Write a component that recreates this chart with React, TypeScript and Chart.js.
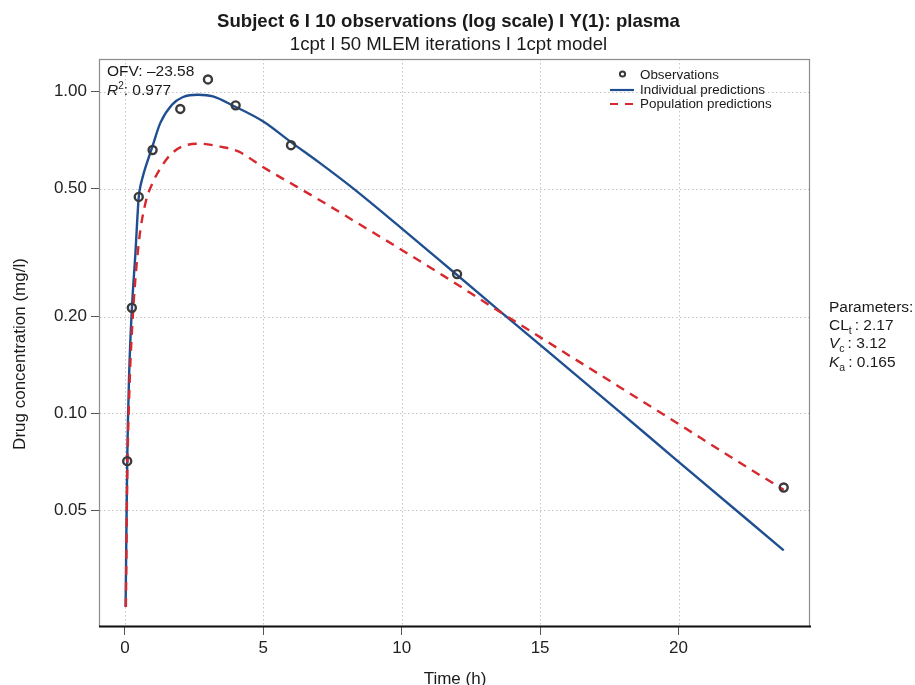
import React, { useEffect, useRef } from 'react';
import { Chart, registerables } from 'chart.js';

Chart.register(...registerables);

// ---- data ----
const obsTime = [0.083, 0.25, 0.5, 1, 2, 3, 4, 6, 12, 23.8];
const obsConc = [0.071, 0.213, 0.471, 0.659, 0.884, 1.092, 0.907, 0.682, 0.271, 0.0588];

const ipredTime = [0.025, 0.083, 0.15, 0.25, 0.38, 0.5, 0.58, 0.68, 0.85, 1, 1.28, 1.7, 2.1, 2.64, 3.18, 3.9, 5, 6, 7, 8.2, 9.9, 11.85, 13.5, 17.94, 19.8, 23.8];
const ipredConc = [0.025, 0.071, 0.13, 0.21, 0.315, 0.471, 0.517, 0.558, 0.621, 0.679, 0.8, 0.911, 0.963, 0.979, 0.967, 0.906, 0.808, 0.697, 0.604, 0.504, 0.382, 0.276, 0.2094, 0.1, 0.0731, 0.0375];

const ppredTime = [0.035, 0.083, 0.15, 0.26, 0.5, 0.74, 1, 1.28, 1.64, 2.06, 2.72, 3.44, 4.1, 5, 6.2, 7.17, 8.37, 9.8, 11.5, 13.2, 15.7, 17.85, 19.9, 21.95, 23.8];
const ppredConc = [0.025, 0.062, 0.11, 0.184, 0.338, 0.45, 0.52, 0.578, 0.636, 0.675, 0.689, 0.675, 0.652, 0.582, 0.507, 0.453, 0.392, 0.33, 0.268, 0.216, 0.158, 0.121, 0.0938, 0.0726, 0.0578];

const xTicks = [0, 5, 10, 15, 20];
const yTicks = [0.05, 0.1, 0.2, 0.5, 1];
const yTickLabels = ['0.05', '0.10', '0.20', '0.50', '1.00'];

const titleText = 'Subject 6 I 10 observations (log scale) I Y(1): plasma';
const subtitleText = '1cpt I 50 MLEM iterations I 1cpt model';
const xTitle = 'Time (h)';
const yTitle = 'Drug concentration (mg/l)';
const legendLabels = ['Observations', 'Individual predictions', 'Population predictions'];
const ofvText = 'OFV: \u201323.58';
const r2Value = ': 0.977';
const paramHeader = 'Parameters:';
const paramSymbols = ['CL', 'V', 'K'];
const paramSubs = ['t', 'c', 'a'];
const paramItalic = [false, true, true];
const paramValues = ['2.17', '3.12', '0.165'];

const FONT = '"Liberation Sans", Arial, Helvetica, sans-serif';
const BLUE = '#1f4f91';
const RED = '#d6282d';
const OBS = '#3a3a3a';

const decor = {
  id: 'decor',
  beforeDatasetsDraw(chart: any) {
    const { ctx, chartArea: a, scales } = chart;
    const x = scales.x;
    const y = scales.y;
    ctx.save();
    ctx.strokeStyle = '#c4c4c4';
    ctx.lineWidth = 1;
    ctx.setLineDash([1.5, 2.5]);
    for (const v of xTicks) {
      const px = Math.round(x.getPixelForValue(v)) + 0.5;
      ctx.beginPath();
      ctx.moveTo(px, a.top);
      ctx.lineTo(px, a.bottom);
      ctx.stroke();
    }
    for (const v of yTicks) {
      const py = Math.round(y.getPixelForValue(v)) + 0.5;
      ctx.beginPath();
      ctx.moveTo(a.left, py);
      ctx.lineTo(a.right, py);
      ctx.stroke();
    }
    ctx.setLineDash([]);
    ctx.strokeStyle = '#8c8c8c';
    ctx.lineWidth = 1.2;
    ctx.strokeRect(a.left - 0.5, a.top + 0.5, a.right - a.left, a.bottom - a.top);
    ctx.strokeStyle = '#111';
    ctx.lineWidth = 2;
    ctx.beginPath();
    ctx.moveTo(a.left - 1, a.bottom + 0.5);
    ctx.lineTo(a.right + 1, a.bottom + 0.5);
    ctx.stroke();
    ctx.restore();
  },
  afterDraw(chart: any) {
    const { ctx, chartArea: a } = chart;
    ctx.save();
    ctx.fillStyle = '#1a1a1a';
    ctx.textAlign = 'center';
    ctx.textBaseline = 'alphabetic';
    ctx.font = `bold 18.6px ${FONT}`;
    ctx.fillText(titleText, 448.5, 27);
    ctx.font = `18.6px ${FONT}`;
    ctx.fillText(subtitleText, 448.5, 50);
    ctx.font = `17px ${FONT}`;
    ctx.fillText(xTitle, (a.left + a.right) / 2, 684);
    ctx.save();
    ctx.translate(25, 354);
    ctx.rotate(-Math.PI / 2);
    ctx.fillText(yTitle, 0, 0);
    ctx.restore();

    ctx.textAlign = 'left';
    ctx.textBaseline = 'middle';
    ctx.font = `15.5px ${FONT}`;
    ctx.fillText(ofvText, 107, 72);
    ctx.font = `italic 15.5px ${FONT}`;
    ctx.fillText('R', 107, 91);
    let wx = 107 + ctx.measureText('R').width;
    ctx.font = `10px ${FONT}`;
    ctx.fillText('2', wx, 86);
    wx += ctx.measureText('2').width;
    ctx.font = `15.5px ${FONT}`;
    ctx.fillText(r2Value, wx, 91);

    const ly = [75, 90, 104];
    ctx.font = `13.4px ${FONT}`;
    ctx.fillStyle = '#1a1a1a';
    legendLabels.forEach((t, i) => ctx.fillText(t, 640, ly[i]));
    ctx.strokeStyle = OBS;
    ctx.lineWidth = 2;
    ctx.beginPath();
    ctx.arc(622.5, ly[0] - 1, 2.6, 0, Math.PI * 2);
    ctx.stroke();
    ctx.strokeStyle = BLUE;
    ctx.lineWidth = 2.2;
    ctx.beginPath();
    ctx.moveTo(610, ly[1]);
    ctx.lineTo(634, ly[1]);
    ctx.stroke();
    ctx.strokeStyle = RED;
    ctx.beginPath();
    ctx.moveTo(610, ly[2]);
    ctx.lineTo(618, ly[2]);
    ctx.moveTo(625, ly[2]);
    ctx.lineTo(633, ly[2]);
    ctx.stroke();

    ctx.fillStyle = '#1a1a1a';
    ctx.font = `15.5px ${FONT}`;
    const px = 829;
    const pys = [326, 344, 363];
    ctx.fillText(paramHeader, px, 308);
    paramSymbols.forEach((s, i) => {
      const py = pys[i];
      ctx.font = `${paramItalic[i] ? 'italic ' : ''}15.5px ${FONT}`;
      ctx.fillText(s, px, py);
      let cx = px + ctx.measureText(s).width;
      ctx.font = `10.5px ${FONT}`;
      ctx.fillText(paramSubs[i], cx, py + 5);
      cx += ctx.measureText(paramSubs[i]).width + 1;
      ctx.font = `15.5px ${FONT}`;
      ctx.fillText(': ' + paramValues[i], cx + 2, py);
    });
    ctx.restore();
  },
};

export default function App() {
  const canvasRef = useRef<HTMLCanvasElement | null>(null);

  useEffect(() => {
    const canvas = canvasRef.current;
    if (!canvas) return;
    const chart = new Chart(canvas, {
      type: 'scatter',
      data: {
        datasets: [
          {
            label: legendLabels[0],
            data: obsTime.map((t, i) => ({ x: t, y: obsConc[i] })),
            showLine: false,
            pointRadius: 4,
            pointBorderWidth: 2.4,
            borderColor: OBS,
            backgroundColor: 'rgba(0,0,0,0)',
            order: 0,
          },
          {
            label: legendLabels[2],
            data: ppredTime.map((t, i) => ({ x: t, y: ppredConc[i] })),
            showLine: true,
            pointRadius: 0,
            borderColor: RED,
            borderWidth: 2.4,
            borderDash: [9, 7],
            cubicInterpolationMode: 'monotone',
            order: 1,
          },
          {
            label: legendLabels[1],
            data: ipredTime.map((t, i) => ({ x: t, y: ipredConc[i] })),
            showLine: true,
            pointRadius: 0,
            borderColor: BLUE,
            borderWidth: 2.4,
            cubicInterpolationMode: 'monotone',
            order: 2,
          },
        ],
      } as any,
      options: {
        animation: false,
        responsive: false,
        devicePixelRatio: 1,
        layout: { padding: { left: 0, right: 105, top: 59, bottom: 0 } },
        plugins: {
          legend: { display: false },
          title: { display: false },
          tooltip: { enabled: false },
        },
        scales: {
          x: {
            type: 'linear',
            min: -0.9,
            max: 24.75,
            afterBuildTicks: (s: any) => {
              s.ticks = xTicks.map((v) => ({ value: v }));
            },
            afterFit: (s: any) => {
              s.height = 59;
            },
            grid: { drawOnChartArea: false, drawTicks: true, tickLength: 9, color: '#555', lineWidth: 1 },
            border: { display: false },
            ticks: {
              font: { family: FONT, size: 17 },
              color: '#222',
              padding: 3,
              maxRotation: 0,
              autoSkip: false,
              callback: (v: any) => String(v),
            },
          },
          y: {
            type: 'logarithmic',
            min: 0.02181,
            max: 1.264,
            afterBuildTicks: (s: any) => {
              s.ticks = yTicks.map((v) => ({ value: v }));
            },
            afterFit: (s: any) => {
              s.width = 100;
            },
            grid: { drawOnChartArea: false, drawTicks: true, tickLength: 9, color: '#555', lineWidth: 1 },
            border: { display: false },
            ticks: {
              font: { family: FONT, size: 17 },
              color: '#222',
              padding: 4,
              autoSkip: false,
              callback: (v: any) => {
                const i = yTicks.findIndex((t) => Math.abs(t - v) < 1e-9);
                return i >= 0 ? yTickLabels[i] : '';
              },
            },
          },
        },
      } as any,
      plugins: [decor],
    });
    return () => chart.destroy();
  }, []);

  return (
    <div style={{ position: 'absolute', left: 0, top: 0, width: 915, height: 685, background: '#fff' }}>
      <canvas ref={canvasRef} width={915} height={685} style={{ display: 'block' }} />
    </div>
  );
}
